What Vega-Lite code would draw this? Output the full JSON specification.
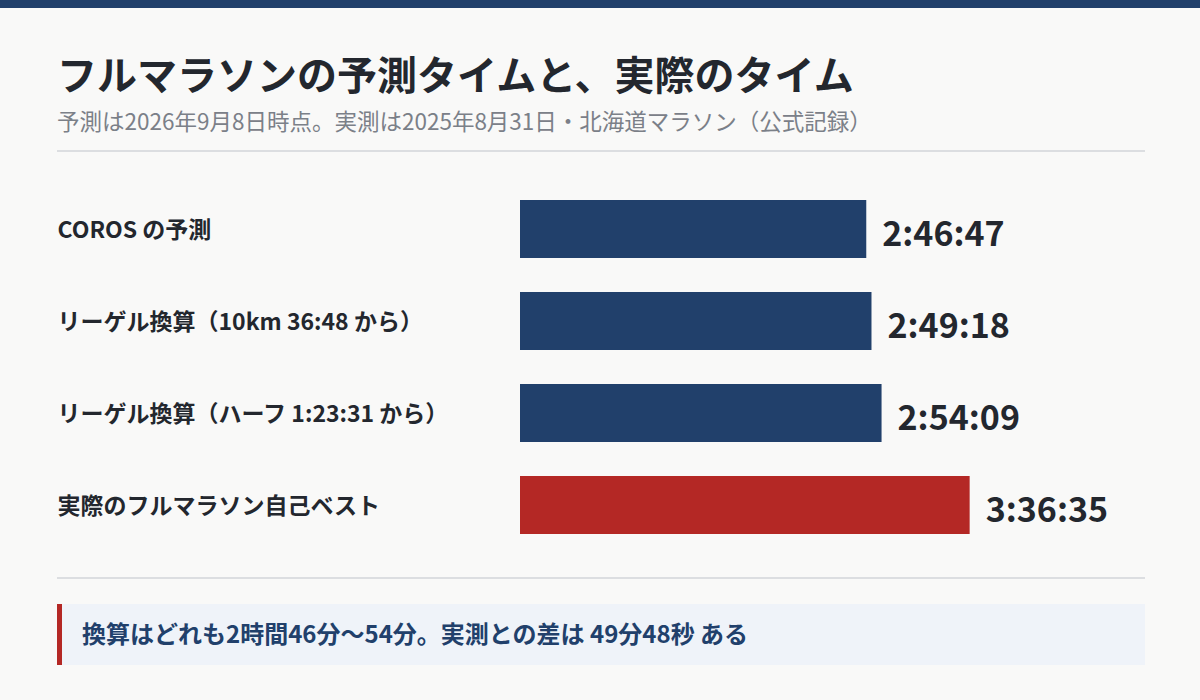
{
  "$schema": "https://vega.github.io/schema/vega-lite/v6.json",
  "width": 1200, "height": 700,
  "autosize": "none",
  "padding": 0,
  "background": "#f9f9f8",
  "config": {"view": {"stroke": null}, "font": "Noto Sans CJK JP"},
  "title": {
    "text": "フルマラソンの予測タイムと、実際のタイム",
    "subtitle": "予測は2026年9月8日時点。実測は2025年8月31日・北海道マラソン（公式記録）",
    "orient": "top", "anchor": "start", "frame": "group",
    "dx": 57, "offset": -134,
    "font": "Noto Sans CJK JP", "fontSize": 40, "fontWeight": "bold", "color": "#23272e",
    "subtitleFont": "Noto Sans CJK JP", "subtitleFontSize": 22.5, "subtitleColor": "#7b8088",
    "subtitlePadding": 14
  },
  "data": {
    "values": [
      {"label": "COROS の予測", "sec": 10007, "time": "2:46:47", "kind": "予測"},
      {"label": "リーゲル換算（10km 36:48 から）", "sec": 10158, "time": "2:49:18", "kind": "予測"},
      {"label": "リーゲル換算（ハーフ 1:23:31 から）", "sec": 10449, "time": "2:54:09", "kind": "予測"},
      {"label": "実際のフルマラソン自己ベスト", "sec": 12995, "time": "3:36:35", "kind": "実測"}
    ]
  },
  "layer": [
    {
      "data": {"values": [{}]},
      "mark": {"type": "rect", "color": "#21406b"},
      "encoding": {"x": {"value": 0}, "x2": {"value": 1200}, "y": {"value": 0}, "y2": {"value": 8}}
    },
    {
      "data": {"values": [{}]},
      "mark": {"type": "rule", "color": "#dcdee1", "strokeWidth": 2},
      "encoding": {"x": {"value": 57}, "x2": {"value": 1145}, "y": {"value": 151}}
    },
    {
      "data": {"values": [{}]},
      "mark": {"type": "rule", "color": "#dcdee1", "strokeWidth": 2},
      "encoding": {"x": {"value": 57}, "x2": {"value": 1145}, "y": {"value": 578}}
    },
    {
      "data": {"values": [{}]},
      "mark": {"type": "rect", "color": "#eff3f9"},
      "encoding": {"x": {"value": 57}, "x2": {"value": 1145}, "y": {"value": 604}, "y2": {"value": 665}}
    },
    {
      "data": {"values": [{}]},
      "mark": {"type": "rect", "color": "#b42825"},
      "encoding": {"x": {"value": 57}, "x2": {"value": 62}, "y": {"value": 604}, "y2": {"value": 665}}
    },
    {
      "data": {"values": [{"note": "換算はどれも2時間46分〜54分。実測との差は 49分48秒 ある"}]},
      "mark": {"type": "text", "align": "left", "baseline": "middle", "fontSize": 24, "fontWeight": "bold", "color": "#21406b"},
      "encoding": {"x": {"value": 82}, "y": {"value": 636}, "text": {"field": "note"}}
    },
    {
      "mark": {"type": "bar"},
      "encoding": {
        "y": {
          "field": "label", "type": "nominal", "sort": null,
          "scale": {"range": [200, 534], "paddingInner": 0.37, "paddingOuter": 0},
          "axis": {
            "orient": "left", "offset": -57, "title": null,
            "ticks": false, "domain": false, "labelPadding": 0,
            "labelAlign": "left", "labelLimit": 0, "labelOffset": 2,
            "labelFontSize": 23, "labelFontWeight": "bold", "labelColor": "#23272e"
          }
        },
        "x": {
          "field": "sec", "type": "quantitative",
          "scale": {"domain": [0, 14450], "range": [520, 1020], "nice": false, "zero": true},
          "axis": null
        },
        "color": {
          "field": "kind", "type": "nominal",
          "scale": {"domain": ["予測", "実測"], "range": ["#21406b", "#b42825"]},
          "legend": null
        }
      }
    },
    {
      "mark": {"type": "text", "align": "left", "baseline": "middle", "dx": 16, "dy": 7, "fontSize": 34, "fontWeight": "bold", "color": "#23272e"},
      "encoding": {
        "y": {"field": "label", "type": "nominal", "sort": null},
        "x": {"field": "sec", "type": "quantitative"},
        "text": {"field": "time"}
      }
    }
  ]
}
